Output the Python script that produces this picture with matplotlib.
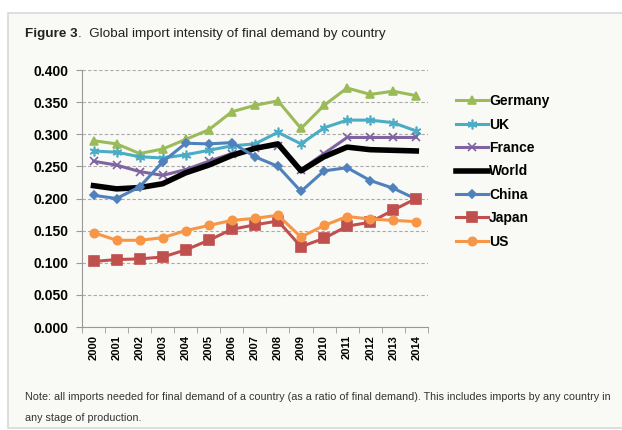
import matplotlib.pyplot as plt
from matplotlib.patches import Rectangle

years = [str(y) for y in range(2000, 2015)]
germany = [0.290, 0.285, 0.270, 0.277, 0.292, 0.307, 0.335, 0.345, 0.352, 0.309, 0.345, 0.372, 0.362, 0.367, 0.360]
uk = [0.274, 0.272, 0.265, 0.263, 0.268, 0.275, 0.282, 0.285, 0.303, 0.285, 0.310, 0.322, 0.322, 0.318, 0.305]
france = [0.258, 0.252, 0.242, 0.236, 0.245, 0.258, 0.270, 0.278, 0.282, 0.245, 0.270, 0.295, 0.295, 0.295, 0.295]
world = [0.220, 0.215, 0.217, 0.223, 0.240, 0.252, 0.267, 0.278, 0.285, 0.243, 0.265, 0.280, 0.276, 0.275, 0.274]
china = [0.205, 0.200, 0.218, 0.257, 0.286, 0.285, 0.287, 0.265, 0.250, 0.211, 0.243, 0.248, 0.228, 0.216, 0.199]
japan = [0.102, 0.105, 0.106, 0.109, 0.120, 0.135, 0.152, 0.159, 0.165, 0.125, 0.138, 0.157, 0.163, 0.182, 0.200]
us = [0.147, 0.135, 0.135, 0.139, 0.150, 0.158, 0.166, 0.169, 0.174, 0.140, 0.158, 0.172, 0.168, 0.166, 0.164]

plt.rcParams['font.family'] = ['Liberation Sans', 'DejaVu Sans']

fig = plt.figure(figsize=(6.22, 4.30), dpi=100)
fig.patches.append(Rectangle((8 / 622, 2 / 430), 0.99, 1 - 15 / 430, transform=fig.transFigure,
                             facecolor='#f9f9f5', edgecolor='#d8d8d8', lw=1.2, zorder=-1))

ax = fig.add_axes([0.1318, 0.2395, 0.556, 0.5977])
ax.set_facecolor('none')
x = range(len(years))

series = [
    ('Germany', germany, '#9bbb59', '^', 6, 2.2),
    ('UK', uk, '#4bacc6', (6, 2, 0), 7, 2.2),
    ('France', france, '#8064a2', 'x', 6, 2.2),
    ('World', world, 'black', None, 0, 4),
    ('China', china, '#4f81bd', 'D', 4.5, 2.2),
    ('Japan', japan, '#c0504d', 's', 7, 2.2),
    ('US', us, '#f79646', 'o', 6, 2.2),
]
for name, vals, col, mk, ms, lw in series:
    ax.plot(x, vals, color=col, marker=mk, markersize=ms, lw=lw, label=name,
            markeredgecolor=col, markeredgewidth=1.2)

ax.set_xlim(-0.5, len(years) - 0.5)
ax.set_ylim(0, 0.4)
ax.set_yticks([i * 0.05 for i in range(9)])
ax.set_yticklabels(['%.3f' % (i * 0.05) for i in range(9)], fontsize=10, fontweight='bold')
ax.set_xticks(list(x))
ax.set_xticklabels(years, rotation=90, fontsize=8, fontweight='bold')
ax.set_xticks([i - 0.5 for i in range(len(years) + 1)], minor=True)
ax.tick_params(axis='x', which='major', length=0, pad=6)
ax.tick_params(axis='x', which='minor', length=4, color='#999999', direction='out')
ax.tick_params(axis='y', length=4, color='#999999', pad=6)
ax.grid(axis='y', ls=(0, (3, 2)), color='#aaaaaa', lw=0.8)
for s in ['top', 'right']:
    ax.spines[s].set_visible(False)
for s in ['left', 'bottom']:
    ax.spines[s].set_color('#999999')

leg = ax.legend(loc='upper left', bbox_to_anchor=(1.045, 0.955), frameon=False,
                prop={'size': 10, 'weight': 'bold'}, handlelength=2.3,
                handletextpad=0.1, labelspacing=0.68)

t1 = fig.text(25 / 622, 1 - 34 / 430, 'Figure 3', fontsize=9.7, fontweight='bold',
              va='center', color='#222222')
r = fig.canvas.get_renderer()
bb = t1.get_window_extent(r)
fig.text(bb.x1 / 622, 1 - 34 / 430, '.  Global import intensity of final demand by country',
         fontsize=9.7, va='center', color='#222222')
fig.text(25 / 622, 1 - 397 / 430,
         'Note: all imports needed for final demand of a country (as a ratio of final demand). This includes imports by any country in',
         fontsize=7.75, va='center', color='#333333')
fig.text(25 / 622, 1 - 418 / 430, 'any stage of production.', fontsize=7.75, va='center', color='#333333')

fig.savefig('out.png', dpi=100)
